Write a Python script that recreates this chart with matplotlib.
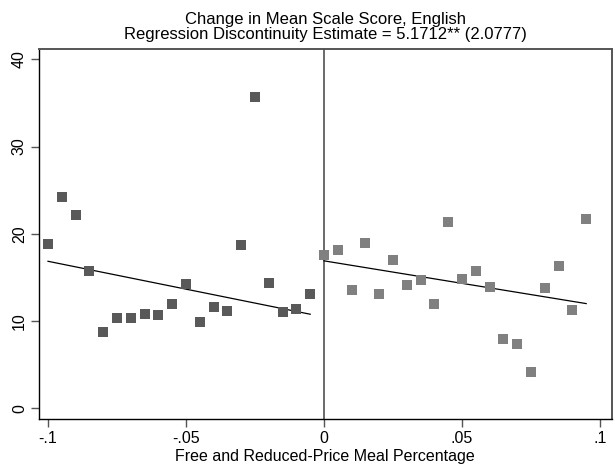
import matplotlib
matplotlib.use("Agg")
import matplotlib.pyplot as plt
import numpy as np

plt.rcParams["font.family"] = ["Liberation Sans", "DejaVu Sans"]

# binned means, left and right of the cutoff
x_left = [-0.100, -0.095, -0.090, -0.085, -0.080, -0.075, -0.070, -0.065, -0.060, -0.055,
          -0.050, -0.045, -0.040, -0.035, -0.030, -0.025, -0.020, -0.015, -0.010, -0.005]
y_left = [18.8, 24.2, 22.1, 15.7, 8.7, 10.3, 10.4, 10.8, 10.7, 12.0,
          14.2, 9.9, 11.6, 11.2, 18.7, 35.7, 14.4, 11.0, 11.4, 13.1]
x_right = [0.000, 0.005, 0.010, 0.015, 0.020, 0.025, 0.030, 0.035, 0.040, 0.045,
           0.050, 0.055, 0.060, 0.065, 0.070, 0.075, 0.080, 0.085, 0.090, 0.095]
y_right = [17.6, 18.2, 13.6, 19.0, 13.1, 17.0, 14.1, 14.7, 12.0, 21.3,
           14.8, 15.7, 13.9, 7.9, 7.4, 4.2, 13.8, 16.3, 11.3, 21.7]

# fitted lines (endpoints)
fit_left_x = [-0.100, -0.005]
fit_left_y = [16.85, 10.78]
fit_right_x = [0.000, 0.095]
fit_right_y = [16.9, 12.0]

x_ticks = [-0.1, -0.05, 0, 0.05, 0.1]
x_ticklabels = ["-.1", "-.05", "0", ".05", ".1"]
y_ticks = [0, 10, 20, 30, 40]

fig = plt.figure(figsize=(6.15, 4.67), dpi=100)
ax = fig.add_axes([0.0629, 0.1028, 0.9317, 0.7933])

ax.axvline(0, color="#505050", lw=1.2, zorder=1)
ax.plot(x_left, y_left, "s", color="#595959", markersize=6.8, markeredgewidth=0, zorder=3)
ax.plot(x_right, y_right, "s", color="#808080", markersize=6.8, markeredgewidth=0, zorder=3)
ax.plot(fit_left_x, fit_left_y, color="black", lw=0.9, zorder=2)
ax.plot(fit_right_x, fit_right_y, color="black", lw=0.9, zorder=2)

ax.set_xlim(-0.10337, 0.10424)
ax.set_ylim(-1.23, 41.24)
ax.set_xticks(x_ticks)
ax.set_xticklabels(x_ticklabels)
ax.set_yticks(y_ticks)
ax.tick_params(axis="both", labelsize=11.5, length=5.5, width=1.0, color="#555555", pad=3)
for label in ax.get_yticklabels():
    label.set_rotation(90)
    label.set_va("center")

for side in ["top", "right"]:
    ax.spines[side].set_color("#555555")
    ax.spines[side].set_linewidth(1.4)
for side in ["left", "bottom"]:
    ax.spines[side].set_color("black")
    ax.spines[side].set_linewidth(1.0)

ax.set_xlabel("Free and Reduced-Price Meal Percentage", fontsize=11.5, labelpad=2)
ax.set_title("Change in Mean Scale Score, English\n"
             "Regression Discontinuity Estimate = 5.1712** (2.0777)",
             fontsize=12, linespacing=0.98, pad=7)

fig.savefig("out.png", dpi=100)
